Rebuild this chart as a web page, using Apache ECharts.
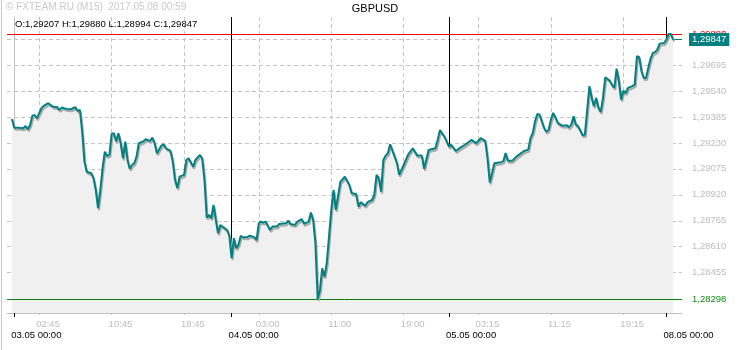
<!DOCTYPE html>
<html><head><meta charset="utf-8">
<script src="https://cdn.jsdelivr.net/npm/echarts@6/dist/echarts.min.js"></script>
<style>html,body{margin:0;padding:0;background:#fff}#c{width:750px;height:350px}</style>
</head><body><div id="c"></div>
<script>
// M15 bar index (0 = 03.05 00:00) and close price
const bars = [-1,0,2,4,5,6,7,8,9,10,12,13,15,17,19,20,21,23,25,27,28,29,30,31,32,34,35,36,37,38,39,40,41,42,43,44,45,46,47,48,49,50,51,52,53,54,55,57,58,60,61,62,63,65,66,67,69,70,71,72,73,75,76,77,79,80,82,83,84,85,86,87,88,89,90,91,93,94,95,96,97,98,99,100,101,103,104,106,107,108,109,110,111,113,114,116,117,120,121,122,124,125,127,128,130,131,132,133,134,135,136,137,138,139,140,141,142,144,146,148,149,151,152,153,155,156,158,159,160,161,162,163,164,165,166,168,169,170,172,174,176,178,180,181,183,186,187,188,190,192,193,195,197,199,200,202,204,206,208,209,210,211,212,215,216,217,218,220,222,223,225,227,228,229,230,231,232,234,235,236,237,238,239,240,242,244,245,246,247,248,249,251,252,253,254,255,256,257,258,259,260,261,263,264,265,266,267,268,269,270,271,273,274,275,276,277,278,279,280,281,282,283,284,285,287,288,289,290,291];
const closes = [1.29373,1.29321,1.29321,1.29318,1.29331,1.29312,1.29337,1.29393,1.29397,1.29377,1.29437,1.29451,1.29467,1.29447,1.29443,1.29427,1.29441,1.29433,1.29431,1.29443,1.29421,1.29427,1.29297,1.29118,1.29058,1.29049,1.29019,1.28949,1.28840,1.28950,1.29079,1.29178,1.29152,1.29158,1.29282,1.29288,1.29238,1.29288,1.29228,1.29138,1.29238,1.29128,1.29075,1.29098,1.29109,1.29148,1.29228,1.29238,1.29252,1.29242,1.29262,1.29228,1.29168,1.29214,1.29222,1.29198,1.29182,1.29118,1.29009,1.28961,1.29028,1.29039,1.29128,1.29138,1.29088,1.29128,1.29158,1.29138,1.29009,1.28784,1.28800,1.28780,1.28859,1.28770,1.28690,1.28740,1.28720,1.28710,1.28674,1.28541,1.28661,1.28601,1.28621,1.28674,1.28667,1.28667,1.28676,1.28667,1.28650,1.28750,1.28760,1.28754,1.28760,1.28710,1.28730,1.28730,1.28746,1.28750,1.28766,1.28746,1.28740,1.28760,1.28774,1.28746,1.28760,1.28814,1.28770,1.28631,1.28298,1.28352,1.28481,1.28431,1.28511,1.28670,1.28830,1.28949,1.28830,1.28997,1.29028,1.28979,1.28929,1.28925,1.28849,1.28876,1.28855,1.28876,1.28889,1.28919,1.29039,1.29019,1.28939,1.29128,1.29154,1.29168,1.29222,1.29148,1.29109,1.29039,1.29098,1.29162,1.29198,1.29154,1.29154,1.29075,1.29188,1.29198,1.29248,1.29307,1.29267,1.29208,1.29218,1.29182,1.29202,1.29218,1.29228,1.29248,1.29228,1.29258,1.29242,1.29138,1.28994,1.29049,1.29109,1.29115,1.29120,1.29170,1.29124,1.29124,1.29150,1.29160,1.29180,1.29190,1.29260,1.29290,1.29359,1.29403,1.29399,1.29319,1.29296,1.29309,1.29369,1.29409,1.29383,1.29349,1.29333,1.29336,1.29324,1.29339,1.29389,1.29339,1.29330,1.29276,1.29279,1.29423,1.29569,1.29499,1.29449,1.29499,1.29439,1.29415,1.29499,1.29622,1.29602,1.29578,1.29558,1.29674,1.29598,1.29488,1.29542,1.29528,1.29558,1.29569,1.29578,1.29748,1.29742,1.29658,1.29618,1.29618,1.29678,1.29732,1.29767,1.29772,1.29787,1.29823,1.29827,1.29847,1.29880,1.29880,1.29847];
const timeTickBars = [11,43,75,108,140,172,205,237,269];
const timeTickLabels = ['02:45','10:45','18:45','03:00','11:00','19:00','03:15','11:15','19:15'];
const dayTickBars = [0,96,192,288];
const dayTickLabels = ['03.05 00:00','04.05 00:00','05.05 00:00','08.05 00:00'];
const priceTicks = [1.28455,1.28610,1.28765,1.28920,1.29075,1.29230,1.29385,1.29540,1.29695,1.29850];
const highPrice = 1.29880, lowPrice = 1.28298, lastPrice = 1.29847;
const ohlcText = ['O:1,29207','H:1,29880','L:1,28994','C:1,29847'];
const symbolName = 'GBPUSD';
const watermark = '\u00A9 FXTEAM.RU (M15)  2017.05.08 00:59';

const xMin = -3.2, xMax = 294.9, yMin = 1.28214, yMax = 1.29982;
const FONT = 'Liberation Sans';
const fmt = v => v.toFixed(5).replace('.', ',');
const data = bars.map((b, i) => [b, closes[i]]);
const lastBar = bars[bars.length - 1];
const noShadow = {shadowBlur: 0, shadowOffsetX: 0, shadowOffsetY: 0, shadowColor: 'transparent'};
const frameLine = {show: true, lineStyle: {color: '#c0c0c0', width: 1}};

const chart = echarts.init(document.getElementById('c'), null, {renderer: 'canvas'});
chart.setOption({
  animation: false,
  backgroundColor: '#ffffff',
  textStyle: {fontFamily: FONT},
  title: [
    {text: watermark, left: 6, top: 2, padding: 0, textStyle: {fontSize: 10, fontWeight: 'normal', color: '#c8c8c8', fontFamily: FONT}},
    {text: symbolName, left: 'center', top: 3, padding: 0, textStyle: {fontSize: 11, fontWeight: 'normal', color: '#000', fontFamily: FONT}},
    {text: ohlcText.join(' '), left: 15, top: 19, padding: 0, textStyle: {fontSize: 9.5, fontWeight: 'normal', color: '#000', fontFamily: FONT}}
  ],
  graphic: [{type: 'line', shape: {x1: 1.5, y1: 0, x2: 1.5, y2: 350}, style: {stroke: '#c8c8c8', lineWidth: 1}, silent: true}],
  grid: {left: 7, right: 68, top: 17, bottom: 37, show: false},
  xAxis: [
    {type: 'value', min: xMin, max: xMax, position: 'bottom',
     axisLine: frameLine,
     axisTick: {show: true, customValues: timeTickBars, length: 2, lineStyle: {color: '#c0c0c0'}},
     axisLabel: {customValues: timeTickBars, formatter: v => timeTickLabels[timeTickBars.indexOf(v)],
                 color: '#bdbdbd', fontSize: 9.5, fontFamily: FONT, align: 'left', padding: [0, 0, 0, -3], margin: 6},
     splitLine: {show: true, lineStyle: {type: [4, 3], color: '#c4c4c4', width: 1}}},
    {type: 'value', min: xMin, max: xMax, position: 'bottom',
     axisLine: {show: false},
     axisTick: {show: true, customValues: dayTickBars, length: 4, lineStyle: {color: '#000'}},
     axisLabel: {customValues: dayTickBars, formatter: v => dayTickLabels[dayTickBars.indexOf(v)],
                 color: '#000', fontSize: 9.5, fontFamily: FONT, align: 'left', padding: [0, 0, 0, -3], margin: 17},
     splitLine: {show: true, lineStyle: {type: 'solid', color: '#000', width: 1}}}
  ],
  yAxis: [
    {type: 'value', min: yMin, max: yMax, position: 'right',
     axisLine: frameLine,
     axisTick: {show: false, customValues: priceTicks},
     axisLabel: {customValues: priceTicks, formatter: v => fmt(v), color: '#bdbdbd', fontSize: 9.5, fontFamily: FONT, margin: 10},
     splitLine: {show: true, lineStyle: {type: [4, 3], color: '#c4c4c4', width: 1}}},
    {type: 'value', min: yMin, max: yMax, position: 'left',
     axisLine: frameLine, axisTick: {show: false}, axisLabel: {show: false}, splitLine: {show: false}}
  ],
  series: [
    {type: 'line', name: 'fill', data: data, xAxisIndex: 0, yAxisIndex: 0, showSymbol: false, silent: true, z: 1,
     lineStyle: {width: 0, opacity: 0}, areaStyle: {color: '#f0f0f0', opacity: 1, origin: 'start'}},
    {type: 'line', name: symbolName, data: data, xAxisIndex: 0, yAxisIndex: 0, showSymbol: false, silent: true, z: 10,
     lineStyle: {color: '#008080', width: 2, shadowColor: '#aaaaaa', shadowBlur: 0, shadowOffsetX: 1, shadowOffsetY: 2},
     markLine: {silent: true, symbol: 'none', animation: false,
       data: [
         [{coord: [xMin, highPrice], lineStyle: Object.assign({color: '#ff0000', type: 'solid', width: 1}, noShadow),
           label: {show: true, position: 'end', formatter: fmt(highPrice), color: '#ff0000', fontSize: 9.5, fontFamily: FONT, distance: 10}},
          {coord: [xMax, highPrice]}],
         [{coord: [xMin, lowPrice], lineStyle: Object.assign({color: '#0c800c', type: 'solid', width: 1}, noShadow),
           label: {show: true, position: 'end', formatter: fmt(lowPrice), color: '#118a11', fontSize: 9.5, fontFamily: FONT, distance: 10}},
          {coord: [xMax, lowPrice]}],
         [{coord: [lastBar, lastPrice], lineStyle: Object.assign({color: '#008080', type: 'solid', width: 1}, noShadow),
           label: {show: true, position: 'end', formatter: fmt(lastPrice), color: '#ffffff', backgroundColor: '#008080',
                   padding: [2, 3, 1, 3], fontSize: 9.5, fontFamily: FONT, distance: 7}},
          {coord: [xMax, lastPrice]}]
       ]}}
  ]
});
</script></body></html>
